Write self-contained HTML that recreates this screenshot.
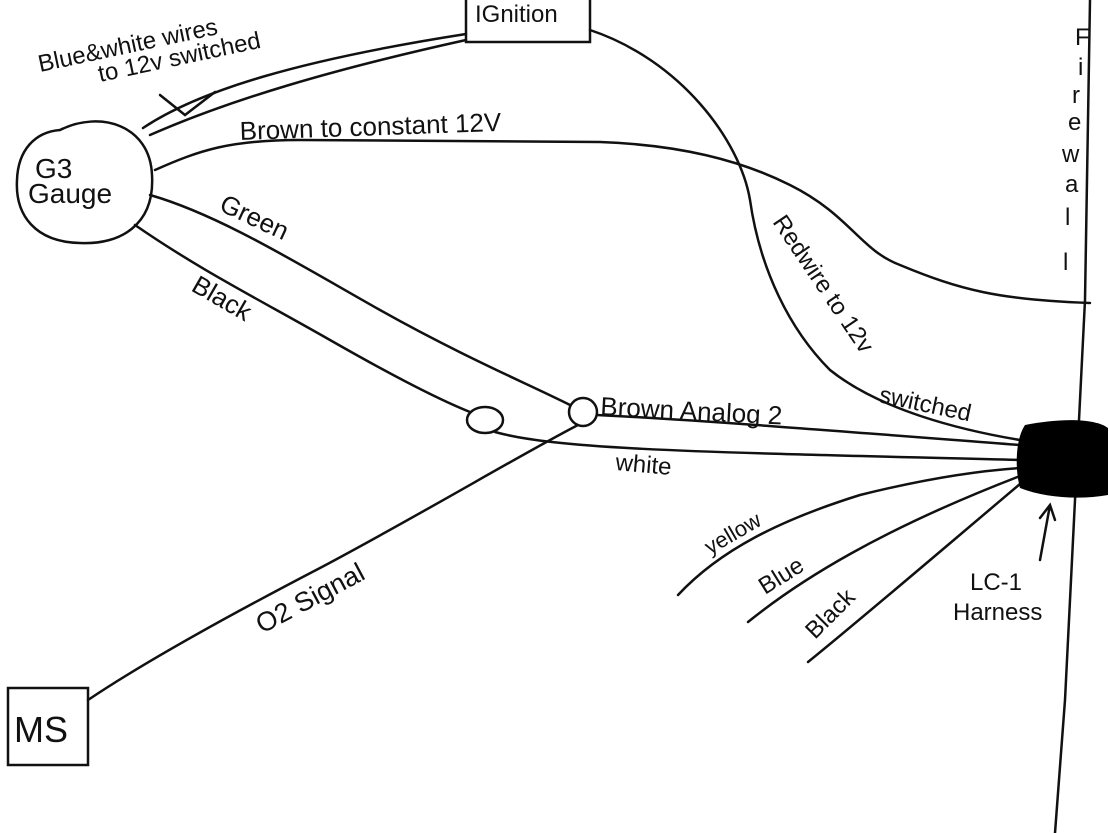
<!DOCTYPE html>
<html><head><meta charset="utf-8"><style>
html,body{margin:0;padding:0;background:#fff;}
svg{display:block;}
text{font-family:"Liberation Sans",sans-serif;fill:#111;}
</style></head><body>
<svg width="1109" height="833" viewBox="0 0 1109 833" xmlns="http://www.w3.org/2000/svg">
<g fill="none" stroke="#111" stroke-width="2.5" stroke-linecap="round">
<path d="M60 130 C100 110,150 125,152 175 C155 225,120 245,80 243 C35 242,15 215,17 180 C18 150,35 132,60 130 Z"/>
<rect x="466" y="-2" width="124" height="44"/>
<rect x="8" y="688" width="80" height="77"/>
<path d="M1090 0 L1085 300 L1075 500 L1065 700 L1055 833"/>
<path d="M143 128 C200 90,300 60,466 34"/>
<path d="M150 135 C230 100,330 70,466 40"/>
<path d="M160 95 L185 115 L215 92"/>
<path d="M590 30 C680 60,740 140,750 200 C760 270,790 330,830 370 C880 410,960 430,1020 440"/>
<path d="M155 170 C200 150,230 140,300 140 L600 142 C680 145,740 160,790 185 C850 215,860 250,900 265 C960 290,1000 300,1090 303"/>
<path d="M150 195 C220 215,300 265,380 310 C460 355,530 385,570 405"/>
<path d="M135 225 C200 270,260 300,330 340 C400 380,440 400,470 412"/>
<ellipse cx="485" cy="420" rx="18" ry="13"/>
<circle cx="583" cy="412" r="14"/>
<path d="M597 415 C700 420,850 432,1020 445"/>
<path d="M495 432 C560 450,700 452,1020 460"/>
<path d="M88 700 C140 665,220 620,320 568 C420 515,520 455,578 425"/>
<path d="M678 595 C720 550,780 520,860 495 C940 475,990 470,1020 468"/>
<path d="M748 622 C800 580,880 530,1020 476"/>
<path d="M808 662 C860 620,930 560,1020 484"/>
<path d="M1040 560 L1050 505 M1040 518 L1050 505 L1055 520"/>
</g>
<path d="M1025 425 C1060 418,1095 418,1108 428 L1108 495 C1080 500,1045 498,1020 488 C1015 470,1015 440,1025 425 Z" fill="#000"/>
<g font-size="26">
<text x="35" y="178" font-size="28">G3</text>
<text x="28" y="203" font-size="28">Gauge</text>
<text x="475" y="22" font-size="24">IGnition</text>
<text x="14" y="742" font-size="36">MS</text>
<text x="240" y="140" transform="rotate(-2 240 140)">Brown to constant 12V</text>
<text x="40" y="72" font-size="24" transform="rotate(-12 40 72)">Blue&amp;white wires</text>
<text x="100" y="82" font-size="24" transform="rotate(-12 100 82)">to 12v switched</text>
<text x="218" y="210" transform="rotate(25 218 210)">Green</text>
<text x="190" y="290" transform="rotate(30 190 290)">Black</text>
<text x="600" y="415" transform="rotate(3 600 415)">Brown Analog 2</text>
<text x="615" y="470" font-size="24" transform="rotate(5 615 470)">white</text>
<text x="262" y="634" font-size="27" transform="rotate(-28 262 634)">O2 Signal</text>
<text x="710" y="555" font-size="22" transform="rotate(-30 710 555)">yellow</text>
<text x="765" y="595" font-size="24" transform="rotate(-32 765 595)">Blue</text>
<text x="815" y="640" font-size="24" transform="rotate(-45 815 640)">Black</text>
<text x="970" y="590" font-size="24">LC-1</text>
<text x="953" y="620" font-size="24">Harness</text>
<text x="772" y="222" font-size="24" transform="rotate(56 772 222)">Redwire to 12v</text>
<text x="878" y="402" font-size="24" transform="rotate(12 878 402)">switched</text>
</g>
<g font-size="24">
<text x="1075" y="45">F</text><text x="1078" y="75">i</text><text x="1072" y="103">r</text>
<text x="1068" y="130">e</text><text x="1062" y="162">w</text><text x="1065" y="192">a</text>
<text x="1065" y="225">l</text><text x="1063" y="270">l</text>
</g>
</svg>
</body></html>
